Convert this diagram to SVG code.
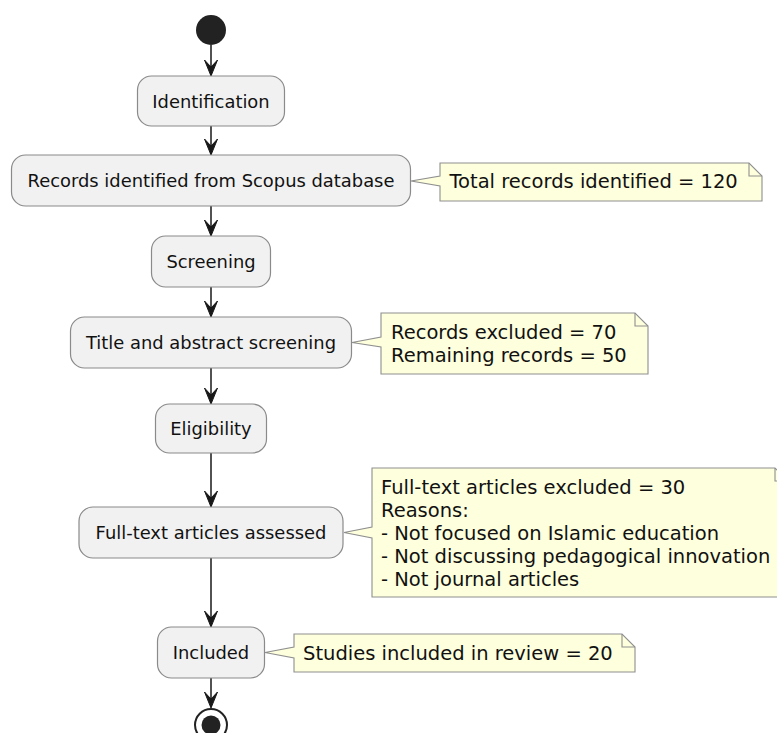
<svg xmlns="http://www.w3.org/2000/svg" width="777" height="733" viewBox="0 0 777 733">
<style>
.box{fill:#F1F1F1;stroke:#8a8a8a;stroke-width:1.2}
.note{fill:#FEFFDD;stroke:#8f8f8f;stroke-width:1.1}
.fold{fill:none;stroke:#8f8f8f;stroke-width:1.1}
.lbl{font-family:"DejaVu Sans",sans-serif;font-size:17.9px;fill:#111;text-anchor:middle}
.nt{font-family:"DejaVu Sans",sans-serif;font-size:19.5px;fill:#111}
.edge{stroke:#181818;stroke-width:1.5;fill:none}
.head{fill:#181818;stroke:#181818;stroke-width:1}
</style>
<g id="connectors">
<line class="edge" x1="211" y1="45" x2="211" y2="75"/>
<path class="head" d="M204.5,60 L211,76 L217.5,60 L211,67 Z"/>
<line class="edge" x1="211" y1="126" x2="211" y2="154"/>
<path class="head" d="M204.5,139 L211,155 L217.5,139 L211,146 Z"/>
<line class="edge" x1="211" y1="206" x2="211" y2="235"/>
<path class="head" d="M204.5,220 L211,236 L217.5,220 L211,227 Z"/>
<line class="edge" x1="211" y1="287" x2="211" y2="316"/>
<path class="head" d="M204.5,301 L211,317 L217.5,301 L211,308 Z"/>
<line class="edge" x1="211" y1="368" x2="211" y2="403"/>
<path class="head" d="M204.5,388 L211,404 L217.5,388 L211,395 Z"/>
<line class="edge" x1="211" y1="453" x2="211" y2="506"/>
<path class="head" d="M204.5,491 L211,507 L217.5,491 L211,498 Z"/>
<line class="edge" x1="211" y1="558" x2="211" y2="626"/>
<path class="head" d="M204.5,611 L211,627 L217.5,611 L211,618 Z"/>
<line class="edge" x1="211" y1="678" x2="211" y2="707"/>
<path class="head" d="M204.5,692 L211,708 L217.5,692 L211,699 Z"/>
</g>
<g id="start">
<circle cx="211" cy="30" r="15" fill="#222"/>
</g>
<g id="identification">
<rect class="box" x="137.5" y="76" width="147" height="50" rx="14"/>
<text class="lbl" x="211" y="107.5">Identification</text>
</g>
<g id="records">
<rect class="box" x="11.5" y="155" width="399" height="51" rx="14"/>
<text class="lbl" x="211" y="187">Records identified from Scopus database</text>
</g>
<g id="note-total">
<path class="note" d="M440,163 L749,163 L762,176 L762,201 L440,201 L440,186 L411,181 L440,176 Z"/>
<path class="fold" d="M749,163 L749,176 L762,176"/>
<text class="nt" x="449.5" y="188">Total records identified = 120</text>
</g>
<g id="screening">
<rect class="box" x="151.5" y="236" width="119" height="51" rx="14"/>
<text class="lbl" x="211" y="268">Screening</text>
</g>
<g id="title-screening">
<rect class="box" x="70.5" y="317" width="281" height="51" rx="14"/>
<text class="lbl" x="211" y="349">Title and abstract screening</text>
</g>
<g id="note-screening">
<path class="note" d="M381,313 L635,313 L648,326 L648,374 L381,374 L381,347 L352,342.5 L381,337 Z"/>
<path class="fold" d="M635,313 L635,326 L648,326"/>
<text class="nt" x="391" y="339">Records excluded = 70</text>
<text class="nt" x="391" y="362">Remaining records = 50</text>
</g>
<g id="eligibility">
<rect class="box" x="155.5" y="404" width="111" height="49" rx="14"/>
<text class="lbl" x="211" y="435">Eligibility</text>
</g>
<g id="fulltext">
<rect class="box" x="79" y="507" width="264" height="51" rx="14"/>
<text class="lbl" x="211" y="539">Full-text articles assessed</text>
</g>
<g id="note-fulltext">
<path class="note" d="M372,468 L775,468 L788,481 L788,597 L372,597 L372,538 L344,532.5 L372,527 Z"/>
<path class="fold" d="M775,468 L775,481 L788,481"/>
<text class="nt" x="381" y="494">Full-text articles excluded = 30</text>
<text class="nt" x="381" y="517">Reasons:</text>
<text class="nt" x="381" y="540">- Not focused on Islamic education</text>
<text class="nt" x="381" y="563">- Not discussing pedagogical innovation</text>
<text class="nt" x="381" y="586">- Not journal articles</text>
</g>
<g id="included">
<rect class="box" x="157.5" y="627" width="107" height="51" rx="14"/>
<text class="lbl" x="211" y="659">Included</text>
</g>
<g id="note-included">
<path class="note" d="M294,634 L622,634 L635,647 L635,672 L294,672 L294,658 L265,652.5 L294,647 Z"/>
<path class="fold" d="M622,634 L622,647 L635,647"/>
<text class="nt" x="303" y="660">Studies included in review = 20</text>
</g>
<g id="end">
<circle cx="211" cy="725" r="16" fill="#fff" stroke="#222" stroke-width="2"/>
<circle cx="211" cy="725" r="9.5" fill="#222"/>
</g>
</svg>
